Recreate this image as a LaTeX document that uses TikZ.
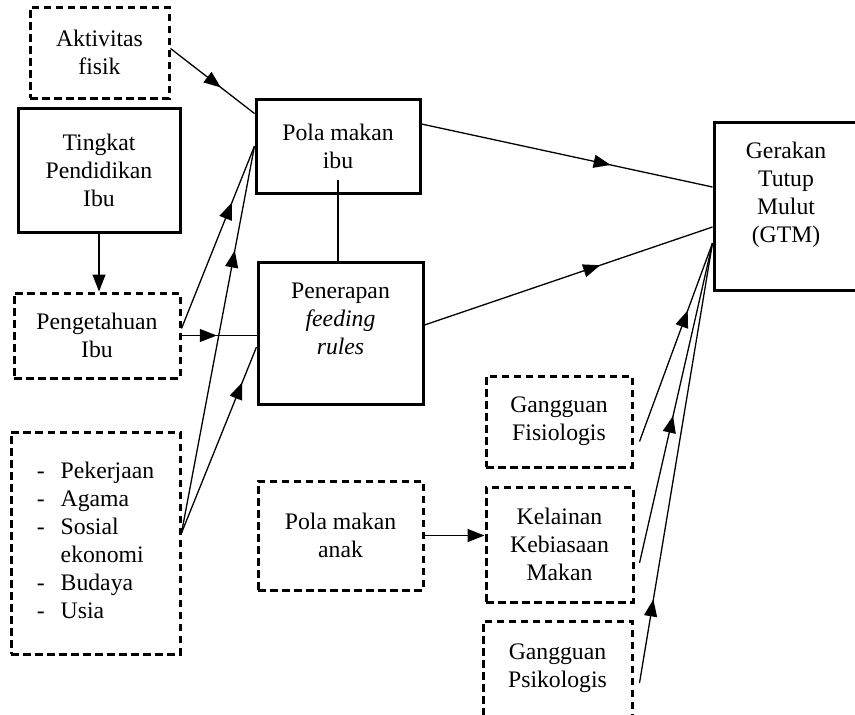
\documentclass[tikz,border=0pt]{standalone}
\usepackage{fontspec}
\setmainfont{Liberation Serif}
\usetikzlibrary{arrows.meta,decorations.markings}

\begin{document}
\begin{tikzpicture}[x=1pt,y=-1pt,>={Triangle[length=17pt,width=13pt]},
  font=\fontsize{23.7}{28}\selectfont,
  box/.style={draw,line width=3pt,align=center,inner sep=0pt},
  dbox/.style={box,dash pattern=on 7.5pt off 4.5pt},
  link/.style={line width=1.3pt},
  tipat/.style={link,postaction={decorate},
    decoration={markings,mark=at position #1 with {\arrow{>}}}}]
  \useasboundingbox (0,0) rectangle (855,715);
  \clip (0,0) rectangle (855,715);
  \node[dbox,minimum width=139pt,minimum height=91pt] (aktiv) at (99.5,52.5) {Aktivitas\\fisik};
  \node[box,minimum width=162pt,minimum height=124pt] (tingkat) at (99,170) {Tingkat\\Pendidikan\\Ibu};
  \node[box,minimum width=164pt,minimum height=94pt] (polaibu) at (338,146) {Pola makan\\ibu};
  \node[dbox,minimum width=166pt,minimum height=85pt] (tahu) at (97,335.5) {Pengetahuan\\Ibu};
  \node[box,minimum width=165pt,minimum height=142pt] (terap) at (340.5,333) {Penerapan\\\textit{feeding}\\\textit{rules}\\~};
  \node[dbox,minimum width=169pt,minimum height=222pt] (faktor) at (95.5,543)
    {\begin{tabular}{@{}l@{\hspace{16pt}}l@{}}
      -&Pekerjaan\\ -&Agama\\ -&Sosial\\ &ekonomi\\ -&Budaya\\ -&Usia
    \end{tabular}};
  \node[dbox,minimum width=165pt,minimum height=109pt] (anak) at (340.5,535.5) {Pola makan\\anak};
  \node[dbox,minimum width=146pt,minimum height=91pt] (fisio) at (559,421.5) {Gangguan\\Fisiologis};
  \node[dbox,minimum width=147pt,minimum height=115pt] (kelainan) at (559.5,544.5) {Kelainan\\Kebiasaan\\Makan};
  \node[dbox,minimum width=149pt,minimum height=95pt] (psiko) at (557.5,668.5) {Gangguan\\Psikologis};
  \node[box,minimum width=144pt,minimum height=168pt] (gtm) at (786,206) {Gerakan\\Tutup\\Mulut\\(GTM)\\~};
  \coordinate (gtmin) at ([yshift=-37pt]gtm.west);

  \draw[tipat=0.6] ([yshift=4pt]aktiv.east) -- ([yshift=-16pt]polaibu.north west);
  \draw[link,->] (tingkat.south) -- (tingkat.south |- tahu.north);
  \draw[link] ([yshift=15pt]polaibu.south) -- (polaibu.south |- terap.north);
  \draw[tipat=0.69] ([yshift=7pt]tahu.east) -- (polaibu.west);
  \draw[tipat=0.47] (tahu.east) -- (tahu.east -| terap.west);
  \draw[tipat=0.73] ([yshift=10pt]faktor.east) -- (polaibu.west);
  \draw[tipat=0.81] ([yshift=10pt]faktor.east) -- ([yshift=-14pt]terap.west);
  \draw[tipat=0.65] ([yshift=22pt]polaibu.east) -- ([yshift=19pt]gtm.west);
  \draw[tipat=0.61] ([yshift=8pt]terap.east) -- ([yshift=-21pt]gtm.west);
  \draw[link,->] (anak.east) -- (anak.east -| kelainan.west);
  \draw[tipat=0.66] ([xshift=6pt,yshift=-20pt]fisio.east) -- (gtmin);
  \draw[tipat=0.46] ([xshift=5pt,yshift=-18.5pt]kelainan.east) -- (gtmin);
  \draw[tipat=0.19] ([xshift=6pt,yshift=-14.5pt]psiko.east) -- (gtmin);
\end{tikzpicture}
\end{document}
